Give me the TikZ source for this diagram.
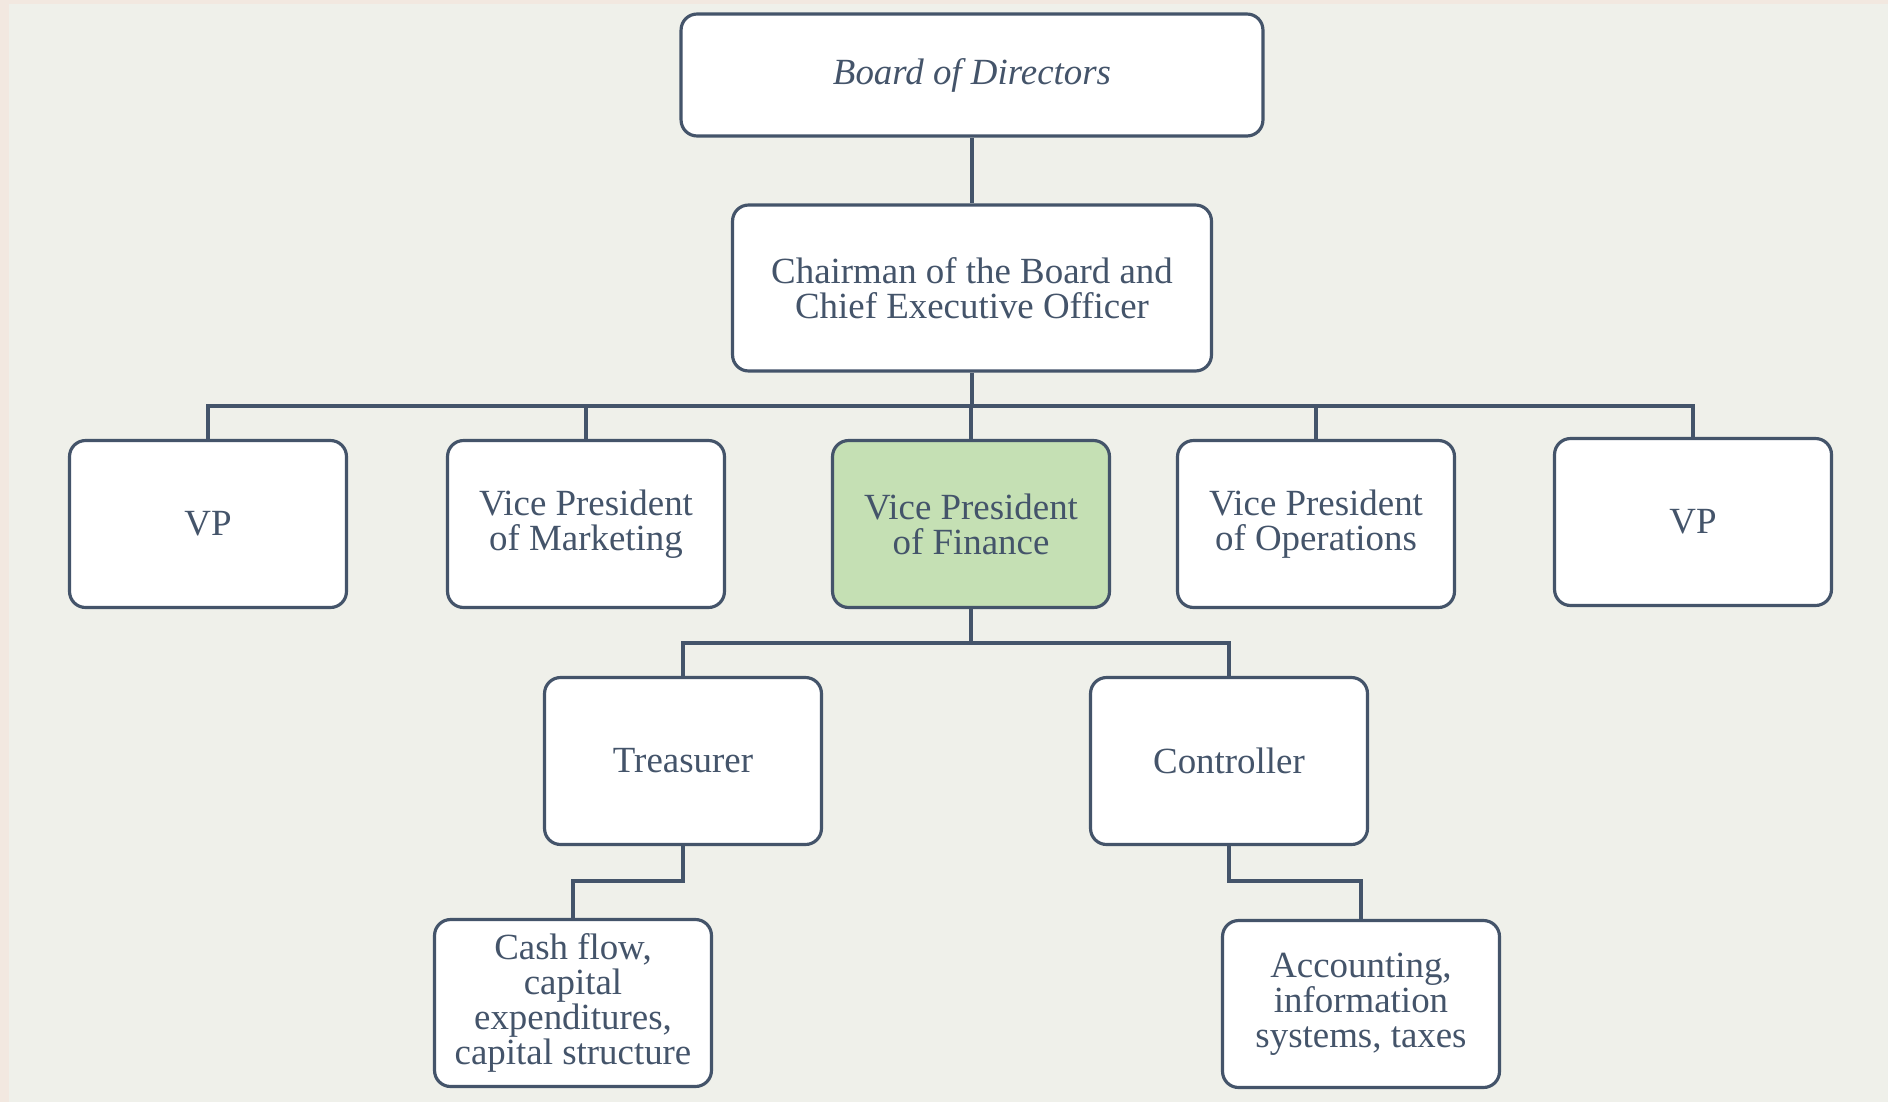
\documentclass[tikz,border=0pt]{standalone}
\usepackage{fontspec}
\setmainfont{Liberation Serif}
\usepackage{xcolor}
\usepackage{tikz}
\definecolor{ink}{HTML}{44546A}
\definecolor{paper}{HTML}{EFF0EA}
\definecolor{edge}{HTML}{F2E8E0}
\definecolor{leaf}{HTML}{C5E0B4}
\tikzset{
  post/.style={draw=ink, fill=white, line width=1.8pt, rounded corners=0.32cm,
    minimum width=5.54cm, minimum height=3.34cm, align=center, text=ink,
    font=\fontsize{21}{20}\selectfont, inner sep=2pt},
  focus/.style={post, fill=leaf},
  link/.style={draw=ink, line width=1.8pt}
}

\begin{document}
\begin{tikzpicture}[x=0.02cm, y=-0.02cm]
  % page
  \fill[edge] (0,0) rectangle (1888,1102);
  \fill[paper] (9,4) rectangle (1888,1102);
  \useasboundingbox (0,0) rectangle (1888,1102);

  % top of the chart
  \node[post, minimum width=11.64cm, minimum height=2.44cm] (board) at (972,75) {\itshape Board of Directors};
  \node[post, minimum width=9.58cm, minimum height=3.32cm] (ceo) at (972,288) {Chairman of the Board and\\Chief Executive Officer};

  % vice presidents
  \node[post] (vpa) at (208,524) {VP};
  \node[post] (mkt) at (586,524) {Vice President\\of Marketing};
  \node[focus] (fin) at (971,524) {Vice President\\of Finance};
  \node[post] (ops) at (1316,524) {Vice President\\of Operations};
  \node[post] (vpb) at (1693,522) {VP};

  % finance staff
  \node[post] (tre) at (683,761) {Treasurer};
  \node[post] (ctl) at (1229,761) {Controller};
  \node[post] (cash) at (573,1003) {Cash flow,\\capital\\expenditures,\\capital structure};
  \node[post] (acc) at (1361,1004) {Accounting,\\information\\systems, taxes};

  % bends
  \coordinate (bus) at (972,406);
  \coordinate (fbus) at (971,643);
  \coordinate (tbend) at (683,881);
  \coordinate (cbend) at (1229,881);

  \draw[link] (board.south) -- (ceo.north);
  \draw[link] (ceo.south) -- (ceo.south |- bus);
  \foreach \v in {vpa,mkt,fin,ops,vpb}
    \draw[link] (ceo.south |- bus) -| (\v.north);
  \draw[link] (fin.south) -- (fin.south |- fbus);
  \foreach \v in {tre,ctl}
    \draw[link] (fin.south |- fbus) -| (\v.north);
  \draw[link] (tre.south) -- (tbend) -| (cash.north);
  \draw[link] (ctl.south) -- (cbend) -| (acc.north);
\end{tikzpicture}
\end{document}
